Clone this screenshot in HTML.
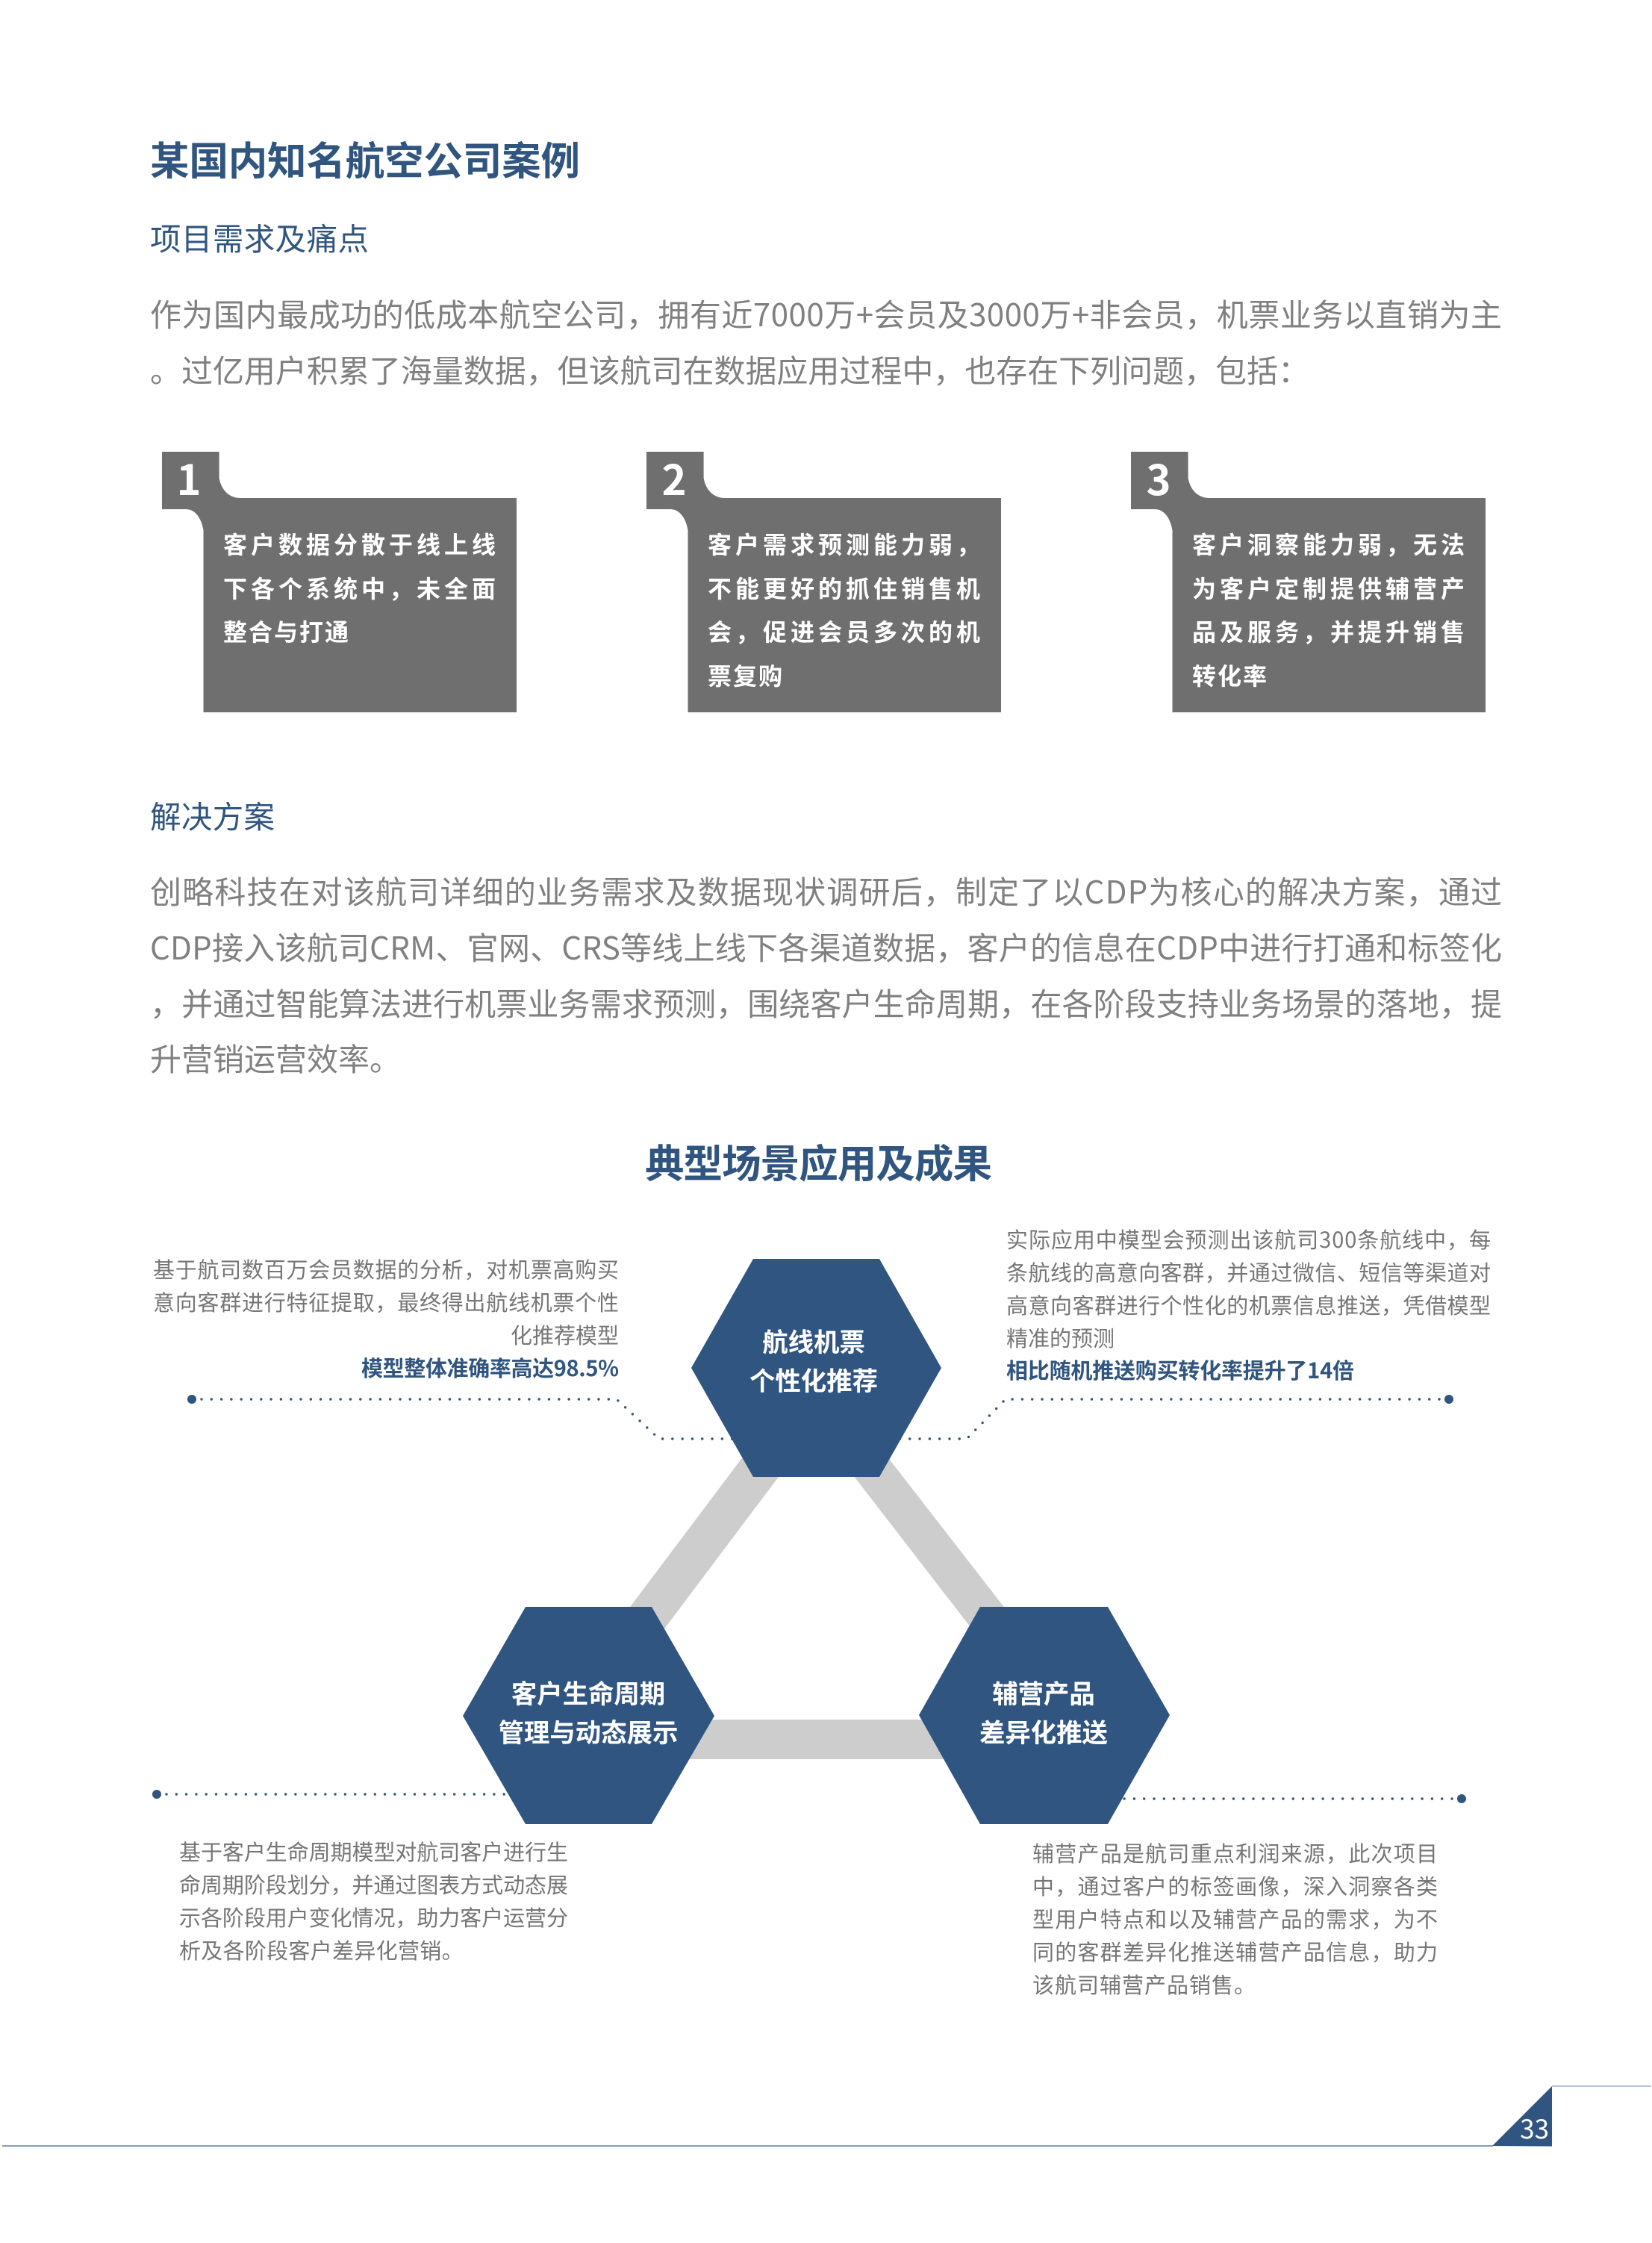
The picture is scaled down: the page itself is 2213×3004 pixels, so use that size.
<!DOCTYPE html>
<html lang="zh"><head><meta charset="utf-8"><title>某国内知名航空公司案例</title>
<style>
html,body{margin:0;padding:0;background:#fff;width:2213px;height:3004px;overflow:hidden}
svg{display:block}
text{font-family:"Noto Sans CJK SC","Liberation Sans",sans-serif}
.t{font-size:52.5px;font-weight:700;fill:#30557f}
.s{font-size:41.5px;fill:#30557f}
.b{font-size:42px;fill:#808080}
.w{font-size:32px;font-weight:700;fill:#fff}
.n{font-size:56px;font-weight:700;fill:#fff;text-anchor:middle}
.h{font-size:34.4px;font-weight:700;fill:#fff;text-anchor:middle}
.a{font-size:29px;fill:#767676}
.k{font-size:29px;font-weight:700;fill:#30557f}
.d{fill:none;stroke:#30557f;stroke-width:3.4;stroke-linecap:round;stroke-dasharray:0 13.3}
</style></head><body>
<svg width="2213" height="3004" viewBox="0 0 2213 3004" xmlns="http://www.w3.org/2000/svg">
<rect width="2213" height="3004" fill="#fff"/>
<text class="t" x="201" y="234" textLength="576">某国内知名航空公司案例</text>
<text class="s" x="201" y="335" textLength="293">项目需求及痛点</text>
<text class="b" x="201" y="437" textLength="1811">作为国内最成功的低成本航空公司，拥有近7000万+会员及3000万+非会员，机票业务以直销为主</text>
<text class="b" x="201" y="512" textLength="1553">。过亿用户积累了海量数据，但该航司在数据应用过程中，也存在下列问题，包括：</text>

<defs><path id="bx" d="M217 605H293.6V640C296 655 306 667 322 667H692V954H272.5V710C270 695 262 682 249 682H217Z" fill="#6f6f6f"/></defs>
<use href="#bx"/><use href="#bx" x="649"/><use href="#bx" x="1298"/>
<text class="n" x="253" y="663">1</text>
<text class="n" x="903" y="663">2</text>
<text class="n" x="1552" y="663">3</text>

<text class="w" x="299" y="741" textLength="365">客户数据分散于线上线</text>
<text class="w" x="299" y="800" textLength="365">下各个系统中，未全面</text>
<text class="w" x="299" y="858" letter-spacing="2">整合与打通</text>

<text class="w" x="948" y="741" textLength="365">客户需求预测能力弱，</text>
<text class="w" x="948" y="800" textLength="365">不能更好的抓住销售机</text>
<text class="w" x="948" y="858" textLength="365">会，促进会员多次的机</text>
<text class="w" x="948" y="917" letter-spacing="2">票复购</text>

<text class="w" x="1597" y="741" textLength="365">客户洞察能力弱，无法</text>
<text class="w" x="1597" y="800" textLength="365">为客户定制提供辅营产</text>
<text class="w" x="1597" y="858" textLength="365">品及服务，并提升销售</text>
<text class="w" x="1597" y="917" letter-spacing="2">转化率</text>

<text class="s" x="201" y="1109" textLength="167">解决方案</text>
<text class="b" x="201" y="1210" textLength="1811">创略科技在对该航司详细的业务需求及数据现状调研后，制定了以CDP为核心的解决方案，通过</text>
<text class="b" x="201" y="1285" textLength="1811">CDP接入该航司CRM、官网、CRS等线上线下各渠道数据，客户的信息在CDP中进行打通和标签化</text>
<text class="b" x="201" y="1360" textLength="1811">，并通过智能算法进行机票业务需求预测，围绕客户生命周期，在各阶段支持业务场景的落地，提</text>
<text class="b" x="201" y="1434">升营销运营效率。</text>

<text class="t" x="864" y="1577" textLength="465">典型场景应用及成果</text>

<text class="a" x="205" y="1711" textLength="624">基于航司数百万会员数据的分析，对机票高购买</text>
<text class="a" x="205" y="1755" textLength="624">意向客群进行特征提取，最终得出航线机票个性</text>
<text class="a" x="829" y="1799" text-anchor="end">化推荐模型</text>
<text class="k" x="829" y="1843" text-anchor="end" textLength="345">模型整体准确率高达98.5%</text>

<text class="a" x="1348" y="1671" textLength="649">实际应用中模型会预测出该航司300条航线中，每</text>
<text class="a" x="1348" y="1715" textLength="649">条航线的高意向客群，并通过微信、短信等渠道对</text>
<text class="a" x="1348" y="1759" textLength="649">高意向客群进行个性化的机票信息推送，凭借模型</text>
<text class="a" x="1348" y="1803">精准的预测</text>
<text class="k" x="1348" y="1846" textLength="466">相比随机推送购买转化率提升了14倍</text>

<circle cx="257" cy="1874" r="6" fill="#30557f"/>
<circle cx="1941" cy="1874" r="6" fill="#30557f"/>
<circle cx="210" cy="2403" r="6" fill="#30557f"/>
<circle cx="1958" cy="2409" r="6" fill="#30557f"/>
<path class="d" d="M270 1874H826L883 1927H1000"/>
<path class="d" d="M1928 1874H1347L1295 1927H1190"/>
<path class="d" d="M223 2403H690"/>
<path class="d" d="M1945 2409H1490"/>

<g fill="#cdcdcd">
<polygon points="996,1950 1064,1950 876,2200 808,2200"/>
<polygon points="1123,1950 1188,1950 1382,2200 1316,2200"/>
<rect x="900" y="2303" width="400" height="53"/>
</g>
<g fill="#305581">
<polygon points="1009,1686 1178,1686 1261,1832 1178,1978 1009,1978 926,1832" />
<polygon points="704,2152 873,2152 957,2298 873,2443 704,2443 620,2298"/>
<polygon points="1313,2152 1484,2152 1567,2297 1484,2443 1313,2443 1231,2297"/>
</g>
<text class="h" x="1090" y="1810">航线机票</text>
<text class="h" x="1090" y="1862">个性化推荐</text>
<text class="h" x="788" y="2281">客户生命周期</text>
<text class="h" x="788" y="2333">管理与动态展示</text>
<text class="h" x="1398" y="2281">辅营产品</text>
<text class="h" x="1398" y="2333">差异化推送</text>

<text class="a" x="240" y="2491" textLength="521">基于客户生命周期模型对航司客户进行生</text>
<text class="a" x="240" y="2535" textLength="521">命周期阶段划分，并通过图表方式动态展</text>
<text class="a" x="240" y="2579" textLength="521">示各阶段用户变化情况，助力客户运营分</text>
<text class="a" x="240" y="2623" letter-spacing="0.3">析及各阶段客户差异化营销。</text>

<text class="a" x="1383" y="2493" textLength="543">辅营产品是航司重点利润来源，此次项目</text>
<text class="a" x="1383" y="2537" textLength="543">中，通过客户的标签画像，深入洞察各类</text>
<text class="a" x="1383" y="2581" textLength="543">型用户特点和以及辅营产品的需求，为不</text>
<text class="a" x="1383" y="2625" textLength="543">同的客群差异化推送辅营产品信息，助力</text>
<text class="a" x="1383" y="2669" letter-spacing="1">该航司辅营产品销售。</text>

<line x1="3" y1="2874" x2="2000" y2="2874" stroke="#3d6191" stroke-width="1.2"/>
<line x1="2079" y1="2794" x2="2212" y2="2794" stroke="#9aaec6" stroke-width="1.4"/>
<polygon points="1999,2874 2079,2794 2079,2874.5" fill="#305581"/>
<text x="2075" y="2864" font-size="35" fill="#fff" text-anchor="end">33</text>
</svg>
</body></html>
